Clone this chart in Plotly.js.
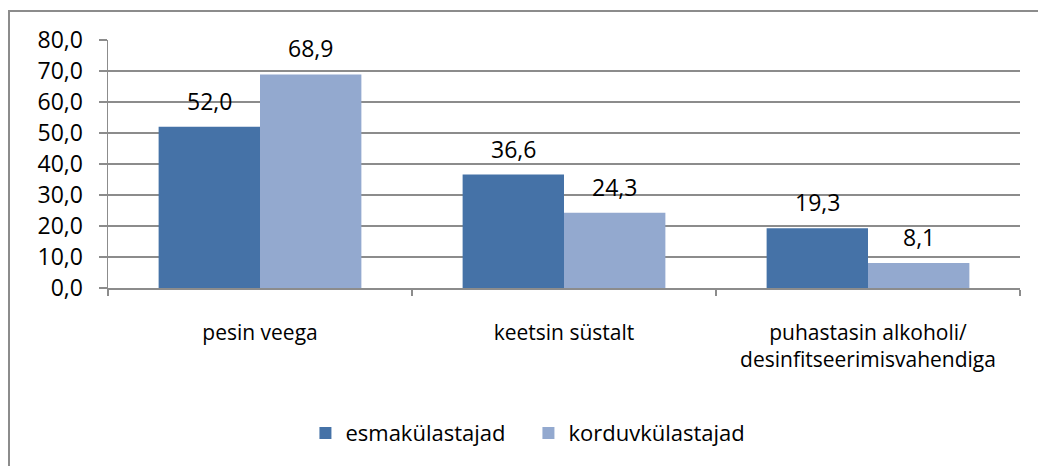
<!DOCTYPE html>
<html>
<head>
<meta charset="utf-8">
<script src="https://cdn.plot.ly/plotly-3.0.1.min.js"></script>
<style>
  html, body { margin: 0; padding: 0; background: #fff; }
  #wrap { position: relative; width: 1038px; height: 466px; overflow: hidden; }
  #chart { position: absolute; left: 0; top: 0; width: 1038px; height: 466px; }
  #frame { position: absolute; left: 8px; top: 10px; width: 1100px; height: 600px;
           border-left: 2px solid #8c8c8c; border-top: 2px solid #8c8c8c; pointer-events: none; }
</style>
</head>
<body>
<div id="wrap">
  <div id="chart"></div>
  <div id="frame"></div>
</div>
<script>
const categories = ['pesin veega', 'keetsin süstalt', 'puhastasin alkoholi/<br>desinfitseerimisvahendiga'];
const seriesNames = ['esmakülastajad', 'korduvkülastajad'];
const esmakulastajad = [52.0, 36.6, 19.3];
const korduvkulastajad = [68.9, 24.3, 8.1];
const yTicks = [0, 10, 20, 30, 40, 50, 60, 70, 80];

const colors = ['#4572A7', '#93A9CF'];
const FONT = 'Open Sans, Lato, sans-serif';
const bargap = 0.333;
const allSeries = [esmakulastajad, korduvkulastajad];

const traces = allSeries.map((vals, i) => ({
  type: 'bar',
  name: seriesNames[i],
  x: categories,
  y: vals,
  marker: { color: colors[i], line: { width: 0 } },
  hoverinfo: 'skip'
}));

const fmt = v => v.toFixed(1).replace('.', ',');
const offset = (1 - bargap) / 4;
const annotations = [];
allSeries.forEach((vals, i) => {
  vals.forEach((v, j) => {
    annotations.push({
      x: j + (i === 0 ? -offset : offset),
      y: v,
      xref: 'x', yref: 'y',
      text: fmt(v),
      showarrow: false,
      yanchor: 'middle',
      yshift: 26,
      font: { family: FONT, size: 23, color: '#000' }
    });
  });
});

const layout = {
  width: 1038,
  height: 466,
  margin: { l: 108, r: 18, t: 40, b: 178 },
  paper_bgcolor: '#fff',
  plot_bgcolor: '#fff',
  separators: ', ',
  barmode: 'group',
  bargap: bargap,
  bargroupgap: 0,
  showlegend: true,
  legend: {
    orientation: 'h',
    x: 0.461, xanchor: 'center',
    y: -0.585, yanchor: 'middle',
    font: { family: FONT, size: 22, color: '#000' },
    itemwidth: 30,
    entrywidth: 178,
    traceorder: 'normal'
  },
  xaxis: {
    type: 'category',
    showline: true, linecolor: '#8c8c8c', linewidth: 1.5,
    ticks: 'outside', tickson: 'boundaries', ticklen: 6, tickcolor: '#8c8c8c', tickwidth: 1.5,
    ticklabelstandoff: 25,
    tickfont: { family: FONT, size: 21, color: '#000' },
    showgrid: false, zeroline: false, fixedrange: true
  },
  yaxis: {
    range: [0, 80],
    tickvals: yTicks,
    ticktext: yTicks.map(fmt),
    showline: true, linecolor: '#8c8c8c', linewidth: 1.5,
    ticks: 'outside', ticklen: 8, tickcolor: '#8c8c8c', tickwidth: 1.5,
    ticklabelstandoff: 11,
    showgrid: true, gridcolor: '#8c8c8c', gridwidth: 1.5,
    zeroline: false,
    tickfont: { family: FONT, size: 23, color: '#000' },
    fixedrange: true
  },
  annotations: annotations
};

Plotly.newPlot('chart', traces, layout, { displayModeBar: false, staticPlot: true });
</script>
</body>
</html>
